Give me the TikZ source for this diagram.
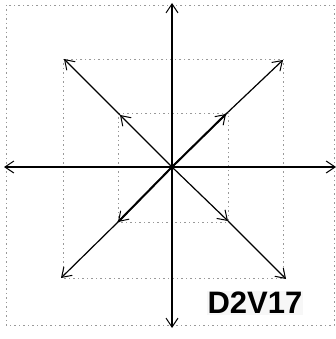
\documentclass[tikz,border=0pt]{standalone}
\usepackage{fontspec}
\setmainfont{Liberation Sans}
\usetikzlibrary{arrows.meta}
\begin{document}
\begin{tikzpicture}[x=1pt,y=-1pt,
  frame/.style={gray!80,line width=0.9pt,dash pattern=on 1pt off 3pt on 2pt off 3pt},
  vec/.style={line width=1.2pt,-{Straight Barb[length=9pt,width=12pt,line width=1pt]}},
  heavy/.style={line width=2.4pt},
  lbl/.style={font=\bfseries\fontsize{31}{31}\selectfont,fill=gray!6,inner sep=1pt,anchor=center}]
\useasboundingbox (0,0) rectangle (336,339);
\fill[white] (0,0) rectangle (336,339);
% frames
\draw[frame] (6,5) rectangle (334,325);
\draw[frame] (63,59) rectangle (283,278);
\draw[frame] (118,113) rectangle (228,222);
% coordinates
\coordinate (c) at (172,167);
\coordinate (up) at (172,3);
\coordinate (dn) at (172,328);
\coordinate (lt) at (4,167);
\coordinate (rt) at (336,167);
\coordinate (ul) at (120,115);
\coordinate (ur) at (226,114);
\coordinate (dl) at (118,222);
\coordinate (dr) at (228,221);
\coordinate (UL) at (64,59);
\coordinate (UR) at (283,60);
\coordinate (DL) at (61,278);
\coordinate (DR) at (286,279);
\coordinate (upk) at (172,70);
\coordinate (dnk) at (172,253);
% heavy parts
\draw[heavy] (up) ++(0,6) -- (upk);
\draw[heavy] (dn) ++(0,-6) -- (dnk);
\draw[heavy] (c) -- (228,167);
\draw[line width=2pt] (c) -- (ur);
\draw[line width=2pt] (c) -- (dl);
% arrows
\draw[vec] (c) -- (up);
\draw[vec] (c) -- (dn);
\draw[vec] (c) -- (lt);
\draw[vec] (c) -- (rt);
\draw[vec] (c) -- (ul);
\draw[vec] (ul) -- (UL);
\draw[vec] (c) -- (ur);
\draw[vec] (ur) -- (UR);
\draw[vec] (c) -- (dl);
\draw[vec] (dl) -- (DL);
\draw[vec] (c) -- (dr);
\draw[vec] (dr) -- (DR);
\node[lbl] (t) at (255,303) {D2V17};
\end{tikzpicture}
\end{document}
